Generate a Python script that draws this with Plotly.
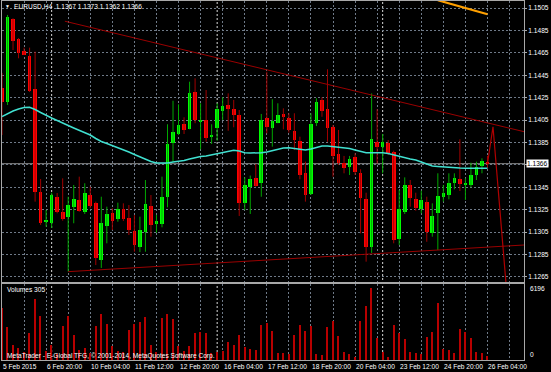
import plotly.graph_objects as go

# ---------------- data (EURUSD H4, bars from 5 Feb 2015 12:00) ----------------
open_ = [1.14336, 1.14213, 1.14949, 1.14771, 1.14666, 1.14624, 1.14327, 1.13410, 1.13139, 1.13128,
         1.13365, 1.13226, 1.13181, 1.13276, 1.13336, 1.13231, 1.13380, 1.13306, 1.12800, 1.13104,
         1.13222, 1.13163, 1.13253, 1.13172, 1.13062, 1.12919, 1.13053, 1.13282, 1.13121, 1.13121,
         1.13365, 1.13842, 1.13925, 1.14014, 1.13972, 1.14303, 1.14041, 1.14050, 1.13896, 1.13976,
         1.14130, 1.14184, 1.14146, 1.14095, 1.13312, 1.13454, 1.13529, 1.13485, 1.14065, 1.13981,
         1.14026, 1.14104, 1.14065, 1.13954, 1.13865, 1.13574, 1.13389, 1.14021, 1.14229, 1.14146,
         1.13985, 1.13746, 1.13669, 1.13628, 1.13717, 1.13579, 1.13342, 1.12913, 1.13856, 1.13812,
         1.13842, 1.13767, 1.12985, 1.13231, 1.13470, 1.13345, 1.13253, 1.13321, 1.13044, 1.13222,
         1.13365, 1.13380, 1.13490, 1.13520, 1.13470, 1.13470, 1.13559, 1.13642, 1.13670]
high = [1.14470, 1.14988, 1.14958, 1.14782, 1.14696, 1.14696, 1.14660, 1.13523, 1.13246, 1.13401,
        1.13398, 1.13529, 1.13365, 1.13470, 1.13544, 1.13485, 1.13454, 1.13321, 1.13365, 1.13276,
        1.13262, 1.13312, 1.13306, 1.13291, 1.13202, 1.13187, 1.13514, 1.13380, 1.13202, 1.13544,
        1.14012, 1.14222, 1.14190, 1.14074, 1.14392, 1.14422, 1.14199, 1.14318, 1.14012, 1.14199,
        1.14253, 1.14288, 1.14229, 1.14139, 1.13538, 1.13554, 1.13657, 1.14104, 1.14481, 1.14235,
        1.14199, 1.14154, 1.14110, 1.14110, 1.13901, 1.13678, 1.14110, 1.14244, 1.14253, 1.14503,
        1.14005, 1.13961, 1.13729, 1.13729, 1.13753, 1.13610, 1.13401, 1.14288, 1.14146, 1.13925,
        1.13871, 1.13776, 1.13425, 1.13538, 1.13514, 1.13401, 1.13419, 1.13365, 1.13306, 1.13574,
        1.13470, 1.13574, 1.13574, 1.13878, 1.13529, 1.13669, 1.13678, 1.13708, 1.13730]
low = [1.13916, 1.14184, 1.14675, 1.14601, 1.14630, 1.14300, 1.13321, 1.13113, 1.13097, 1.13086,
       1.13217, 1.13151, 1.12696, 1.13128, 1.13231, 1.13211, 1.13262, 1.12755, 1.12729, 1.12949,
       1.13068, 1.13142, 1.13148, 1.13023, 1.12874, 1.12871, 1.12874, 1.13008, 1.13044, 1.13092,
       1.13271, 1.13678, 1.13916, 1.13925, 1.13967, 1.14021, 1.13788, 1.13856, 1.13836, 1.13865,
       1.14050, 1.13954, 1.13985, 1.13193, 1.13246, 1.13211, 1.13454, 1.13365, 1.13931, 1.13812,
       1.14021, 1.13967, 1.13937, 1.13782, 1.13520, 1.13321, 1.13380, 1.13996, 1.14079, 1.13856,
       1.13544, 1.13648, 1.13574, 1.13559, 1.13559, 1.13038, 1.12785, 1.12863, 1.13663, 1.13574,
       1.13738, 1.12949, 1.12934, 1.13211, 1.13276, 1.13240, 1.13217, 1.12963, 1.13008, 1.12889,
       1.13321, 1.13342, 1.13431, 1.13416, 1.13336, 1.13449, 1.13514, 1.13574, 1.13620]
close = [1.14210, 1.14967, 1.14758, 1.14646, 1.14634, 1.14309, 1.13410, 1.13128, 1.13157, 1.13380,
         1.13226, 1.13166, 1.13291, 1.13342, 1.13240, 1.13396, 1.13282, 1.12818, 1.13128, 1.13211,
         1.13151, 1.13253, 1.13163, 1.13068, 1.12934, 1.13068, 1.13297, 1.13113, 1.13151, 1.13365,
         1.13833, 1.13943, 1.14005, 1.13961, 1.14294, 1.14050, 1.14054, 1.13887, 1.13916, 1.14146,
         1.14175, 1.14148, 1.14095, 1.13312, 1.13470, 1.13523, 1.13463, 1.14050, 1.13990, 1.14041,
         1.14095, 1.14074, 1.13961, 1.13871, 1.13559, 1.13380, 1.14014, 1.14213, 1.14133, 1.13976,
         1.13729, 1.13669, 1.13621, 1.13699, 1.13588, 1.13351, 1.12916, 1.13878, 1.13806, 1.13851,
         1.13753, 1.12979, 1.13253, 1.13470, 1.13351, 1.13262, 1.13336, 1.13053, 1.13193, 1.13371,
         1.13401, 1.13485, 1.13535, 1.13479, 1.13485, 1.13559, 1.13633, 1.13684, 1.13660]
volume = [4498, 2812, 1290, 1058, 714, 2296, 5246, 3784, 774, 1290,
          516, 2950, 3784, 2150, 860, 1058, 576, 2950, 3956, 3096,
          1204, 774, 662, 2580, 3096, 3294, 3672, 1290, 714, 3586,
          3956, 3526, 1204, 774, 1204, 2348, 2434, 2296, 576, 714,
          800, 1574, 1290, 2150, 1144, 920, 860, 3010, 3156, 2494,
          576, 630, 516, 2150, 3010, 2523, 2953, 488, 430, 2810,
          3354, 2093, 716, 488, 287, 3354, 4644, 6196, 1920, 716,
          287, 3010, 2350, 1806, 716, 573, 516, 1950, 2437, 4930,
          917, 860, 630, 2666, 2380, 1892, 688, 573, 305]
ma = [1.14081, 1.14108, 1.14130, 1.14148, 1.14162, 1.14163, 1.14144, 1.14117, 1.14090, 1.14068,
      1.14046, 1.14021, 1.14001, 1.13979, 1.13956, 1.13934, 1.13916, 1.13885, 1.13858, 1.13840,
      1.13822, 1.13800, 1.13787, 1.13764, 1.13742, 1.13720, 1.13702, 1.13679, 1.13666, 1.13666,
      1.13666, 1.13675, 1.13679, 1.13688, 1.13702, 1.13715, 1.13724, 1.13729, 1.13738, 1.13746,
      1.13758, 1.13769, 1.13779, 1.13773, 1.13758, 1.13755, 1.13755, 1.13758, 1.13764, 1.13778,
      1.13791, 1.13800, 1.13803, 1.13796, 1.13787, 1.13782, 1.13791, 1.13804, 1.13818, 1.13818,
      1.13813, 1.13809, 1.13806, 1.13796, 1.13782, 1.13769, 1.13758, 1.13758, 1.13758, 1.13758,
      1.13751, 1.13738, 1.13722, 1.13715, 1.13702, 1.13693, 1.13675, 1.13657, 1.13639, 1.13635,
      1.13630, 1.13628, 1.13626, 1.13621, 1.13619, 1.13619, 1.13619, 1.13619, 1.13619]

date_label_bars = [0, 8, 16, 24, 32, 40, 48, 56, 64, 72, 80, 88]
date_labels = ["5 Feb 2015", "6 Feb 20:00", "10 Feb 04:00", "11 Feb 12:00", "12 Feb 20:00",
               "16 Feb 04:00", "17 Feb 12:00", "18 Feb 20:00", "20 Feb 04:00", "23 Feb 12:00",
               "24 Feb 20:00", "26 Feb 04:00"]
week_separator_bars = [9, 39, 69]

upper_trend_bar = [11.4, 94.6]
upper_trend_price = [1.14932, 1.13946]
lower_trend_bar = [12, 79]
lower_trend_price = [1.12696, 1.12889]
proj_bar = [88, 89, 92]
proj_price = [1.1366, 1.1399, 1.1221]
orange_bar = [79, 88]
orange_price = [1.15119, 1.14994]

title_text = "EURUSD,H4  1.1367 1.1373 1.1362 1.1366"
bid_price = 1.1366
vol_max_label = 6196
vol_current = 305

# ---------------- layout geometry ----------------
W, H = 551, 372
ML, MR, MT, MB = 2, 27, 1, 12
X_RANGE = [0, 94.62]
PRICE_RANGE = [1.126036, 1.151125]
VOL_RANGE = [0, 6540]
plot_h = H - MT - MB


def px_x(X):
    return (X - ML) / (W - ML - MR)


def px_y(Y):
    return (H - MB - Y) / plot_h


MAIN_DOM = [px_y(282), 1]
VOL_DOM = [0, px_y(284)]

FONT = "Liberation Sans, Arial, sans-serif"
FS = 6.6
TXT = "#ffffff"
GRID = "#6f7a88"
FRAME = "#a8a8a8"

n = len(open_)
idx = list(range(n))
up = [close[i] >= open_[i] for i in idx]

fig = go.Figure()

# wicks
for is_up, col in [(True, "#00a800"), (False, "#a00000")]:
    wx, wy = [], []
    for i in idx:
        if up[i] == is_up:
            wx += [i, i, None]
            wy += [low[i], high[i], None]
    fig.add_trace(go.Scatter(x=wx, y=wy, mode="lines", line=dict(color=col, width=1),
                             hoverinfo="skip", showlegend=False, xaxis="x", yaxis="y"))

# bodies
body_h = []
for i in idx:
    d = close[i] - open_[i]
    if abs(d) < 0.00005:
        d = 0.00005 if d >= 0 else -0.00005
    body_h.append(d)
fig.add_trace(go.Bar(x=idx, y=body_h, base=open_, width=0.66,
                     marker=dict(color=["#00ff00" if u else "#ff0000" for u in up], line=dict(width=0)),
                     showlegend=False, xaxis="x", yaxis="y"))

# moving average
fig.add_trace(go.Scatter(x=idx, y=ma, mode="lines", line=dict(color="#40e0d0", width=1.5),
                         showlegend=False, xaxis="x", yaxis="y"))


def extend(bx, py, x_end):
    slope = (py[1] - py[0]) / (bx[1] - bx[0])
    return [bx[0], x_end], [py[0], py[0] + slope * (x_end - bx[0])]


ux, uy = extend(upper_trend_bar, upper_trend_price, X_RANGE[1])
lx, ly = extend(lower_trend_bar, lower_trend_price, X_RANGE[1])
for tx, ty in [(ux, uy), (lx, ly)]:
    fig.add_trace(go.Scatter(x=tx, y=ty, mode="lines", line=dict(color="#9a0000", width=1),
                             showlegend=False, xaxis="x", yaxis="y"))
fig.add_trace(go.Scatter(x=proj_bar, y=proj_price, mode="lines", line=dict(color="#b00000", width=1.2),
                         showlegend=False, xaxis="x", yaxis="y"))
fig.add_trace(go.Scatter(x=orange_bar, y=orange_price, mode="lines", line=dict(color="#ffa000", width=2.2),
                         showlegend=False, xaxis="x", yaxis="y"))

# volumes
fig.add_trace(go.Bar(x=idx, y=volume, width=0.24, marker=dict(color="#b80000", line=dict(width=0)),
                     showlegend=False, xaxis="x2", yaxis="y2"))

shapes = []
shapes.append(dict(type="line", xref="x", yref="y", x0=X_RANGE[0], x1=X_RANGE[1], y0=bid_price, y1=bid_price,
                   line=dict(color="#8a8a8a", width=1), layer="below"))
for b in week_separator_bars:
    shapes.append(dict(type="line", xref="x", yref="paper", x0=b, x1=b, y0=0, y1=1,
                       line=dict(color="#d8d8d8", width=1, dash="2px,2px"), layer="below"))

annotations = []
annotations.append(dict(xref="paper", yref="paper", x=px_x(12), y=px_y(6.5), xanchor="left", yanchor="middle",
                        text=title_text, showarrow=False, font=dict(family=FONT, size=FS, color=TXT)))
annotations.append(dict(xref="paper", yref="paper", x=px_x(7.5), y=px_y(6), xanchor="center", yanchor="middle",
                        text="▼", showarrow=False, font=dict(family=FONT, size=5, color=TXT)))
annotations.append(dict(xref="paper", yref="paper", x=px_x(5), y=px_y(289.5), xanchor="left", yanchor="middle",
                        text=f"Volumes {vol_current}", showarrow=False, font=dict(family=FONT, size=FS, color=TXT)))
annotations.append(dict(xref="paper", yref="paper", x=px_x(5), y=px_y(356), xanchor="left", yanchor="middle",
                        text="MetaTrader - E-Global TFG, © 2001-2014, MetaQuotes Software Corp.",
                        showarrow=False, font=dict(family=FONT, size=FS, color=TXT)))
annotations.append(dict(xref="paper", yref="y2", x=px_x(528), y=vol_max_label, xanchor="left", yanchor="middle",
                        text=str(vol_max_label), showarrow=False, font=dict(family=FONT, size=FS, color=TXT)))
annotations.append(dict(xref="paper", yref="y2", x=px_x(528), y=0, xanchor="left", yanchor="bottom",
                        text="0", showarrow=False, font=dict(family=FONT, size=FS, color=TXT)))
annotations.append(dict(xref="paper", yref="y", x=px_x(526), y=bid_price, xanchor="left", yanchor="middle",
                        text="1.1366", showarrow=False, bgcolor="#ffffff", borderpad=0,
                        font=dict(family=FONT, size=FS, color="#000000")))
for b, t in zip(date_label_bars, date_labels):
    annotations.append(dict(xref="x2", yref="paper", x=b, y=px_y(361), xanchor="left", yanchor="top",
                            xshift=-1, text=t, showarrow=False, font=dict(family=FONT, size=FS, color=TXT)))

axis_common = dict(showline=True, linecolor=FRAME, linewidth=1, mirror=True, zeroline=False)

fig.update_layout(
    width=W, height=H, margin=dict(l=ML, r=MR, t=MT, b=MB),
    paper_bgcolor="#000000", plot_bgcolor="#000000",
    barmode="overlay", bargap=0, showlegend=False,
    xaxis=dict(domain=[0, 1], anchor="y", range=X_RANGE, tick0=0, dtick=4, showticklabels=False,
               showgrid=True, gridcolor=GRID, griddash="2px,2px", gridwidth=1, ticks="", **axis_common),
    yaxis=dict(domain=MAIN_DOM, anchor="x", range=PRICE_RANGE, side="right", tick0=1.1265, dtick=0.002,
               tickformat=".4f", showgrid=True, gridcolor=GRID, griddash="2px,2px", gridwidth=1,
               ticks="outside", ticklen=2, tickcolor=FRAME, automargin=False,
               tickfont=dict(family=FONT, size=FS, color=TXT), **axis_common),
    xaxis2=dict(domain=[0, 1], anchor="y2", range=X_RANGE, tick0=0, dtick=4, showticklabels=False,
                showgrid=True, gridcolor=GRID, griddash="2px,2px", gridwidth=1, ticks="", **axis_common),
    yaxis2=dict(domain=VOL_DOM, anchor="x2", range=VOL_RANGE, side="right", showgrid=False,
                showticklabels=False, ticks="", **axis_common),
    shapes=shapes, annotations=annotations,
)

fig.write_html("out.html", config={"displayModeBar": False},
               post_script="document.body.style.margin='0';document.body.style.background='#000';")
